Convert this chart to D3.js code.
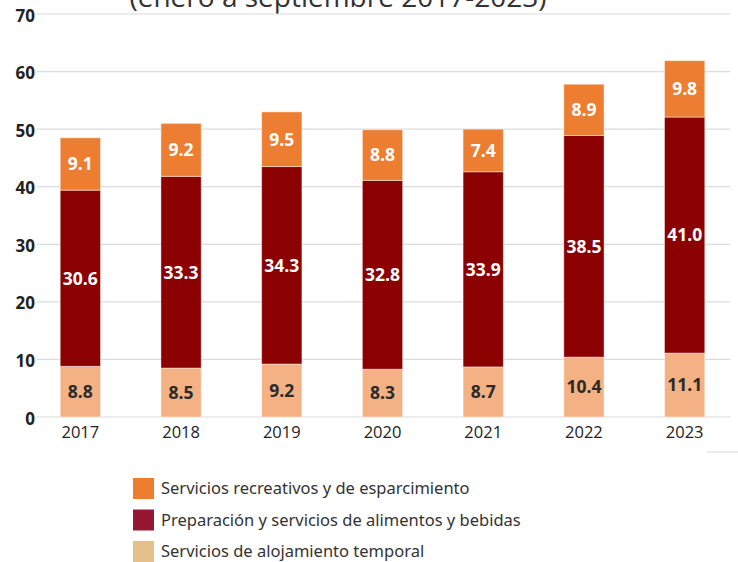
<!DOCTYPE html>
<html>
<head>
<meta charset="utf-8">
<script src="https://cdn.jsdelivr.net/npm/d3@7"></script>
<style>
  body { margin: 0; background: #fff; }
  svg { display: block; font-family: "Open Sans", "Noto Sans", sans-serif; }
</style>
</head>
<body>
<svg id="chart" width="738" height="562"></svg>
<script>
const years = ["2017", "2018", "2019", "2020", "2021", "2022", "2023"];
const alojamiento = [8.8, 8.5, 9.2, 8.3, 8.7, 10.4, 11.1];
const alimentos = [30.6, 33.3, 34.3, 32.8, 33.9, 38.5, 41.0];
const recreativos = [9.1, 9.2, 9.5, 8.8, 7.4, 8.9, 9.8];
const yTicks = [0, 10, 20, 30, 40, 50, 60, 70];
const seriesNames = ["Servicios de alojamiento temporal", "Preparación y servicios de alimentos y bebidas", "Servicios recreativos y de esparcimiento"];
const barColors = ["#F4B183", "#8B0000", "#ED7D31"];
const legendColors = ["#E5BF8C", "#951833", "#ED7D31"];
const labelColors = ["#2b2b2b", "#ffffff", "#ffffff"];
const titleText = "(enero a septiembre 2017-2023)";

const svg = d3.select("#chart");
const x = d3.scaleBand().domain(years).range([30, 735]).paddingInner(0.6).paddingOuter(0.3);
const y = d3.scaleLinear().domain([0, 70]).range([417, 14]);

// title (partially cut, as in the reference)
svg.append("text").attr("x", 338).attr("y", 7).attr("text-anchor", "middle")
  .attr("font-size", 28).attr("fill", "#333").text(titleText);

// gridlines
svg.append("g").selectAll("line").data(yTicks).join("line")
  .attr("x1", 37).attr("x2", 730)
  .attr("y1", d => y(d)).attr("y2", d => y(d))
  .attr("stroke", "#dcdcdc").attr("stroke-width", 1.2);

// y axis labels
const yAxis = d3.axisLeft(y).tickValues(yTicks).tickSize(0).tickPadding(0);
const gy = svg.append("g").attr("transform", "translate(35,0)").call(yAxis);
gy.select(".domain").remove();
gy.selectAll("text").attr("font-size", 17).attr("font-weight", "bold")
  .attr("fill", "#222").attr("font-family", "'Open Sans', sans-serif").attr("dy", "0.42em");

// x axis labels
const xAxis = d3.axisBottom(x).tickSize(0).tickPadding(0);
const gx = svg.append("g").attr("transform", "translate(0,423)").call(xAxis);
gx.select(".domain").remove();
gx.selectAll("text").attr("font-size", 16.5).attr("fill", "#222")
  .attr("font-family", "'Open Sans', sans-serif").attr("dy", "0.9em");

// stacked data
const table = years.map((yr, i) => ({ year: yr, a: alojamiento[i], b: alimentos[i], c: recreativos[i] }));
const stack = d3.stack().keys(["a", "b", "c"])(table);

const layers = svg.append("g").selectAll("g").data(stack).join("g")
  .attr("fill", (d, i) => barColors[i]);
layers.selectAll("rect").data(d => d).join("rect")
  .attr("x", d => x(d.data.year))
  .attr("width", x.bandwidth())
  .attr("y", d => y(d[1]))
  .attr("height", d => y(d[0]) - y(d[1]))
  .attr("stroke", "rgba(255,255,255,0.45)").attr("stroke-width", 1);

// value labels
const lab = svg.append("g").selectAll("g").data(stack).join("g")
  .attr("fill", (d, i) => labelColors[i]);
lab.selectAll("text").data(d => d).join("text")
  .attr("x", d => x(d.data.year) + x.bandwidth() / 2)
  .attr("y", d => (y(d[0]) + y(d[1])) / 2)
  .attr("dy", "0.36em")
  .attr("text-anchor", "middle")
  .attr("font-size", 17.5).attr("font-weight", "bold")
  .text(d => (d[1] - d[0]).toFixed(1));

// small line bottom right
svg.append("line").attr("x1", 707).attr("x2", 738).attr("y1", 452).attr("y2", 452)
  .attr("stroke", "#d8d8d8").attr("stroke-width", 1);

// legend
const legendOrder = [2, 1, 0];
const lg = svg.append("g").selectAll("g").data(legendOrder).join("g")
  .attr("transform", (d, i) => `translate(133,${478 + i * 31.5})`);
lg.append("rect").attr("width", 21).attr("height", 21).attr("fill", d => legendColors[d]);
lg.append("text").attr("x", 28).attr("y", 10.5).attr("dy", "0.36em")
  .attr("font-size", 16.5).attr("fill", "#333")
  .attr("font-family", "'Noto Sans', 'Open Sans', sans-serif")
  .text(d => seriesNames[d]);
</script>
</body>
</html>
